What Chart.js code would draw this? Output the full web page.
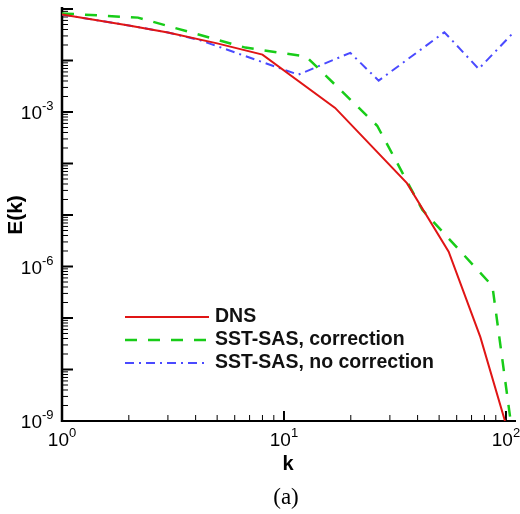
<!DOCTYPE html>
<html>
<head>
<meta charset="utf-8">
<script src="https://cdn.jsdelivr.net/npm/chart.js@4.4.0/dist/chart.umd.min.js"></script>
<style>
  html, body { margin: 0; padding: 0; background: #fff; }
</style>
</head>
<body>
<canvas id="spectrum" width="520" height="514"></canvas>
<script>
// energy spectra E(k)
const dnsK = [1, 2, 3, 5, 8, 17, 35.8, 55.2, 76.7, 99];
const dnsE = [0.078, 0.048, 0.035, 0.0215, 0.013, 1.2e-3, 4.16e-5, 1.94e-6, 4.25e-8, 1e-9];

const corrK = [1, 2.2, 6.7, 12.6, 26.3, 42, 86.9, 105];
const corrE = [0.082, 0.068, 0.0178, 0.0119, 5.41e-4, 1.26e-5, 4.18e-7, 1e-9];

const noCorrK = [1, 2, 3, 4.2, 11.6, 19.9, 26.7, 52.8, 75.4, 107.7];
const noCorrE = [0.078, 0.048, 0.035, 0.0247, 5.3e-3, 0.0141, 4.06e-3, 0.0354, 6.87e-3, 0.0344];

const seriesNames = ['DNS', 'SST-SAS, correction', 'SST-SAS, no correction'];

// axis decades and which ones carry a label
const xDecades = [1, 10, 100];
const xLabelExp = ['0', '1', '2'];
const yDecades = [1e-9, 1e-8, 1e-7, 1e-6, 1e-5, 1e-4, 1e-3, 1e-2, 1e-1];
const yLabelled = [1e-9, 1e-6, 1e-3];
const yLabelExp = ['-9', '-6', '-3'];

const toPoints = (ks, es) => ks.map((k, i) => ({ x: k, y: es[i] }));

const sansFont = '"Liberation Sans", Arial, sans-serif';

const drawPower = (ctx, px, py, exp, align) => {
    // "10" with a raised exponent, py = vertical centre of the "10"
    ctx.font = '19px ' + sansFont;
    const baseW = ctx.measureText('10').width;
    ctx.font = '13px ' + sansFont;
    const supW = ctx.measureText(exp).width;
    let left;
    if (align === 'right') left = px - baseW;
    else left = px - (baseW + supW) / 2;
    ctx.textAlign = 'left';
    ctx.textBaseline = 'alphabetic';
    ctx.font = '19px ' + sansFont;
    ctx.fillText('10', left, py + 7);
    ctx.font = '13px ' + sansFont;
    ctx.fillText(exp, left + baseW, py - 2);
};

const axesPlugin = {
    id: 'tecAxes',
    beforeDatasetsDraw(chart) {
        const { ctx, chartArea: a, scales: { x, y } } = chart;
        ctx.save();
        ctx.strokeStyle = '#000';
        ctx.fillStyle = '#000';

        // y ticks, pointing into the plot
        yDecades.forEach((d, i) => {
            const py = y.getPixelForValue(d);
            ctx.lineWidth = 2;
            ctx.beginPath(); ctx.moveTo(a.left, py); ctx.lineTo(a.left + 11, py); ctx.stroke();
            if (i < yDecades.length - 1) {
                ctx.lineWidth = 1;
                for (let m = 2; m <= 9; m++) {
                    const my = y.getPixelForValue(m * d);
                    ctx.beginPath(); ctx.moveTo(a.left, my); ctx.lineTo(a.left + 6, my); ctx.stroke();
                }
            }
        });

        // x ticks
        xDecades.forEach(d => {
            const px = x.getPixelForValue(d);
            ctx.lineWidth = 2;
            ctx.beginPath(); ctx.moveTo(px, a.bottom); ctx.lineTo(px, a.bottom - 10); ctx.stroke();
            ctx.lineWidth = 1;
            for (let m = 2; m <= 9; m++) {
                if (m * d > x.max) break;
                const mx = x.getPixelForValue(m * d);
                ctx.beginPath(); ctx.moveTo(mx, a.bottom); ctx.lineTo(mx, a.bottom - 6); ctx.stroke();
            }
        });

        // axis lines
        ctx.lineWidth = 2.5;
        ctx.beginPath(); ctx.moveTo(a.left, a.top - 2); ctx.lineTo(a.left, a.bottom + 1); ctx.stroke();
        ctx.lineWidth = 2;
        ctx.beginPath(); ctx.moveTo(a.left - 1, a.bottom); ctx.lineTo(a.right, a.bottom); ctx.stroke();

        // tick labels
        yLabelled.forEach((v, i) => drawPower(ctx, a.left - 20, y.getPixelForValue(v), yLabelExp[i], 'right'));
        xDecades.forEach((v, i) => drawPower(ctx, x.getPixelForValue(v), a.bottom + 18, xLabelExp[i], 'center'));

        // axis titles
        ctx.font = 'bold 20px ' + sansFont;
        ctx.textAlign = 'center';
        ctx.textBaseline = 'middle';
        ctx.fillText('k', 288, 464);
        ctx.save();
        ctx.translate(16, 215);
        ctx.rotate(-Math.PI / 2);
        ctx.font = 'bold 21px ' + sansFont;
        ctx.fillText('E(k)', 0, 0);
        ctx.restore();

        // caption
        ctx.font = '23px "Liberation Serif", "Times New Roman", serif';
        ctx.fillText('(a)', 286, 498);
        ctx.restore();
    },
    afterDatasetsDraw(chart) {
        // line legend inside the plot
        const { ctx } = chart;
        ctx.save();
        chart.data.datasets.forEach((ds, i) => {
            const ly = 317 + i * 23;
            ctx.strokeStyle = ds.borderColor;
            ctx.lineWidth = ds.borderWidth;
            ctx.setLineDash(ds.borderDash || []);
            ctx.beginPath(); ctx.moveTo(125, ly); ctx.lineTo(209, ly); ctx.stroke();
            ctx.setLineDash([]);
            ctx.fillStyle = '#111';
            ctx.font = 'bold 19.5px ' + sansFont;
            ctx.textAlign = 'left';
            ctx.textBaseline = 'middle';
            ctx.fillText(ds.label, 215, ly);
        });
        ctx.restore();
    }
};

new Chart(document.getElementById('spectrum'), {
    type: 'line',
    data: {
        datasets: [
            {
                label: seriesNames[0],
                data: toPoints(dnsK, dnsE),
                borderColor: '#e01515',
                borderWidth: 2
            },
            {
                label: seriesNames[1],
                data: toPoints(corrK, corrE),
                borderColor: '#18cc18',
                borderWidth: 2.5,
                borderDash: [12, 11]
            },
            {
                label: seriesNames[2],
                data: toPoints(noCorrK, noCorrE),
                borderColor: '#4a4aff',
                borderWidth: 2,
                borderDash: [9, 5, 2, 5]
            }
        ]
    },
    options: {
        responsive: false,
        animation: false,
        devicePixelRatio: 1,
        layout: { padding: { left: 62, right: 4, top: 9, bottom: 93 } },
        elements: {
            point: { radius: 0 },
            line: { tension: 0, fill: false }
        },
        plugins: {
            legend: { display: false },
            tooltip: { enabled: false }
        },
        scales: {
            x: { type: 'logarithmic', min: 1, max: 111, display: false },
            y: { type: 'logarithmic', min: 1e-9, max: 1e-1, display: false }
        }
    },
    plugins: [axesPlugin]
});
</script>
</body>
</html>
